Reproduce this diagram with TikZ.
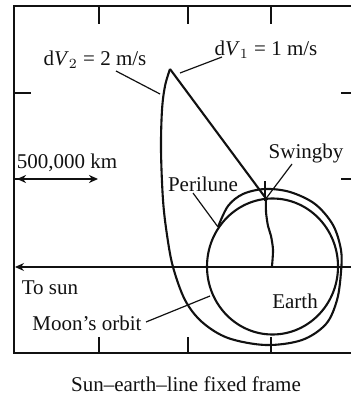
\documentclass[tikz,border=0pt]{standalone}
\usepackage{fontspec}
\setmainfont{Liberation Serif}
\usetikzlibrary{arrows.meta, positioning}
\definecolor{ink}{HTML}{111111}
\tikzset{
  frame/.style={draw=ink, line width=0.7pt},
  tick/.style={draw=ink, line width=0.7pt},
  orbit/.style={draw=ink, line width=1.05pt},
  traj/.style={draw=ink, line width=1.05pt, line join=round},
  leader/.style={draw=ink, line width=0.6pt},
  lbl/.style={font=\fontsize{10.5}{12}\selectfont, text=ink, inner sep=1pt},
  sunline/.style={-{Stealth[length=4.5pt, width=4pt]}, draw=ink, line width=0.6pt},
  scalebar/.style={{Stealth[length=4.5pt, width=4pt]}-{Stealth[length=4.5pt, width=4pt]}, draw=ink, line width=0.8pt},
}

\begin{document}
\begin{tikzpicture}[x=0.5pt, y=-0.5pt]
  \useasboundingbox (0,0) rectangle (351,395);
  % frame and ticks
  \draw[frame] (14,6) rectangle (353,353);
  \foreach \tx in {99,188,271} {
    \draw[tick] (\tx,6) -- (\tx,24);
    \draw[tick] (\tx,353) -- (\tx,337);
  }
  \foreach \ty in {93,179} {
    \draw[tick] (14,\ty) -- (31,\ty);
    \draw[tick] (341,\ty) -- (353,\ty);
  }
  % sun-earth line and moon's orbit
  \coordinate (earth) at (272.5,266.5);
  \coordinate (rightend) at (353,267);
  \coordinate (sunend) at (15,267);
  \draw[sunline] (rightend) -- (sunend);
  \draw[orbit] (earth) ellipse [x radius=65.5, y radius=68];
  % trajectory
  \coordinate (swingby) at (266,198.5);
  \coordinate (apex) at (170,69);
  \coordinate (perilune) at (218,227);
  \draw[traj] plot[smooth, tension=0.5] coordinates {(272,266) (273,250) (271,236) (268,226) (266,212) (266,198.5)};
  \draw[traj] (swingby) -- (apex);
  \draw[traj] plot[smooth, tension=0.55] coordinates {(170,69) (165,86) (162,110) (161,150) (163,200) (167,235) (173,267) (185,300) (202,322) (228,338) (266,345) (302,340) (326,324) (337,300) (341,272) (341,250) (333,225) (315,204) (290,192) (265,189) (243,194) (228,206) (218,227)};
  \draw[tick] (265,181) -- (265,201);
  % labels
  \node[lbl] (dvtwo) at (95,60) {d\textit{V}$_2$ = 2 m/s};
  \node[lbl] (dvone) at (266,50) {d\textit{V}$_1$ = 1 m/s};
  \node[lbl] (kmlbl) at (67,163) {500,000 km};
  \node[lbl] (perilbl) at (203,184) {Perilune};
  \node[lbl] (swinglbl) at (306,153) {Swingby};
  \node[lbl] (sunlbl) at (50,288) {To sun};
  \node[lbl] (moonlbl) at (87,323) {Moon's orbit};
  \node[lbl] (earthlbl) at (295,301) {Earth};
  \node[lbl] (caption) at (186,384) {Sun--earth--line fixed frame};
  % scale arrow
  \coordinate (kmleft) at (17,179);
  \coordinate (kmright) at (98,179);
  \draw[scalebar] (kmleft) -- (kmright);
  % leaders
  \coordinate (dvtwofoot) at (116,71);
  \coordinate (dvtwotip) at (160,94);
  \coordinate (dvonefoot) at (222,57);
  \coordinate (dvonetip) at (180,73);
  \coordinate (perifoot) at (193,193);
  \coordinate (swingfoot) at (292,164);
  \coordinate (moonfoot) at (146,322);
  \coordinate (moontip) at (210,296);
  \draw[leader] (dvtwofoot) -- (dvtwotip);
  \draw[leader] (dvonefoot) -- (dvonetip);
  \draw[leader] (perifoot) -- (perilune);
  \draw[leader] (swingfoot) -- (swingby);
  \draw[leader] (moonfoot) -- (moontip);
\end{tikzpicture}
\end{document}
